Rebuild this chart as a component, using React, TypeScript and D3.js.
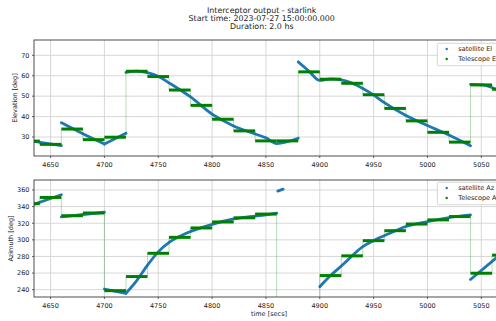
import React, { useRef, useEffect } from "react";
import * as d3 from "d3";

// satellite elevation, one array per pass (time [s], deg)
const satElA = [[4634, 27.9], [4660, 25.8]];
const satElB = [[4660, 37], [4680, 31.6], [4700, 26.6]];
const satElC = [[4700, 26.6], [4720, 31.8]];
const satElD = [
  [4720, 61.6], [4730, 62.3], [4740, 61.5], [4750, 59.7], [4760, 56.5],
  [4780, 49.6], [4800, 41.2], [4820, 35.4], [4840, 31.5], [4850, 29.6],
  [4860, 26.8], [4880, 29.4],
];
const satElE = [
  [4880, 66.8], [4890, 62.2], [4900, 57.7], [4910, 58.5], [4920, 58],
  [4930, 56.4], [4940, 53.8], [4950, 50.6], [4960, 46.8], [4980, 40.5],
  [5000, 35.6], [5020, 31], [5040, 25.7],
];
const satElF = [[5040, 55.8], [5052, 55.5], [5058, 54.6], [5066, 52.8]];

// satellite azimuth
const satAzA = [[4634, 342.6], [4660, 354.3]];
const satAzB = [[4660, 327.6], [4700, 333.2]];
const satAzC = [[4700, 240.8], [4720, 235.7]];
const satAzD = [
  [4720, 235.7], [4730, 251], [4739, 267.7], [4750, 285.5], [4761, 297.8],
  [4776, 307.9], [4800, 318.7], [4820, 325.1], [4835, 327.9], [4850, 330],
  [4860, 332],
];
const satAzE = [[4861, 358.6], [4866, 361]];
const satAzF = [
  [4900, 243.6], [4910, 257], [4921, 269.7], [4940, 291.8], [4950, 299],
  [4965, 307.9], [4980, 316], [5000, 322], [5020, 326.8], [5040, 330],
];
const satAzG = [[5040, 252.3], [5066, 280.5]];

// telescope commands, held 20 s each
const stepTimes = [
  4620, 4640, 4660, 4680, 4700, 4720, 4740, 4760, 4780, 4800, 4820, 4840,
  4860, 4880, 4900, 4920, 4940, 4960, 4980, 5000, 5020, 5040, 5060,
];
const telEl = [
  28, 26.4, 33.9, 28.7, 29.9, 62.2, 59.6, 53, 45.5, 38.7, 33, 28.1,
  28.1, 61.9, 58.3, 56.3, 50.7, 44, 37.9, 32.3, 27.5, 55.5, 53.4,
];
const telAz = [
  343.5, 351, 329, 332.3, 238.8, 255.8, 283.8, 303, 314.3, 321.5, 326.5, 331,
  2, 1, 257, 280.7, 299, 311, 319, 324, 328, 259.8, 281.6,
];
const stepLength = 20;

const xTicks = [4650, 4700, 4750, 4800, 4850, 4900, 4950, 5000, 5050];
const elTicks = [30, 40, 50, 60, 70];
const azTicks = [240, 260, 280, 300, 320, 340, 360];

const titleLines = [
  "Interceptor output - starlink",
  "Start time: 2023-07-27 15:00:00.000",
  "Duration: 2.0 hs",
];

const BLUE = "#1f77b4";
const GREEN = "#008000";
const FONT = "DejaVu Sans, sans-serif";

const App = () => {
  const chartRef = useRef<SVGSVGElement>(null);

  useEffect(() => {
    const svg = d3.select(chartRef.current);
    svg.selectAll("*").remove();

    const width = 496;
    const height = 321;
    const left = 34;
    const right = 504;

    svg.attr("width", width).attr("height", height);

    const x = d3.scaleLinear().domain([4634.6, 5071.1]).range([left, right]);

    // title
    svg.append("g")
      .selectAll("text")
      .data(titleLines)
      .enter()
      .append("text")
      .attr("x", 261.7)
      .attr("y", (d, i) => 12.7 + i * 8.2)
      .attr("text-anchor", "middle")
      .style("font-family", FONT)
      .style("font-size", "7.9px")
      .style("fill", "#222")
      .text((d) => d);

    const panels = [
      {
        id: "el", top: 40, bottom: 156, domain: [20.7, 77.5], ticks: elTicks,
        label: "Elevation [deg]", labelX: 16.5, sat: [satElA, satElB, satElC, satElD, satElE, satElF],
        tel: telEl, names: ["satellite El", "Telescope El"], legendY: 43.3, xLabel: false,
      },
      {
        id: "az", top: 180, bottom: 297, domain: [231.2, 372], ticks: azTicks,
        label: "Azimuth [deg]", labelX: 13, sat: [satAzA, satAzB, satAzC, satAzD, satAzE, satAzF, satAzG],
        tel: telAz, names: ["satellite Az", "Telescope Az"], legendY: 182.3, xLabel: true,
      },
    ];

    panels.forEach((p) => {
      const y = d3.scaleLinear().domain(p.domain).range([p.bottom, p.top]);
      const g = svg.append("g");

      g.append("clipPath")
        .attr("id", `clip-${p.id}`)
        .append("rect")
        .attr("x", left)
        .attr("y", p.top)
        .attr("width", right - left)
        .attr("height", p.bottom - p.top);

      // grid
      g.selectAll("line.vgrid")
        .data(xTicks)
        .enter()
        .append("line")
        .attr("x1", (d) => x(d))
        .attr("x2", (d) => x(d))
        .attr("y1", p.top)
        .attr("y2", p.bottom)
        .attr("stroke", "#d3d3d3")
        .attr("stroke-width", 0.9);
      g.selectAll("line.hgrid")
        .data(p.ticks)
        .enter()
        .append("line")
        .attr("x1", left)
        .attr("x2", right)
        .attr("y1", (d) => y(d))
        .attr("y2", (d) => y(d))
        .attr("stroke", "#d3d3d3")
        .attr("stroke-width", 0.9);

      const plot = g.append("g").attr("clip-path", `url(#clip-${p.id})`);

      // satellite track
      const satLine = d3.line<number[]>()
        .x((d) => x(d[0]))
        .y((d) => y(d[1]))
        .curve(d3.curveMonotoneX);
      plot.selectAll("path.sat")
        .data(p.sat)
        .enter()
        .append("path")
        .attr("d", (d) => satLine(d))
        .attr("fill", "none")
        .attr("stroke", BLUE)
        .attr("stroke-width", 2.8)
        .attr("stroke-linecap", "round");

      // telescope: thin connecting steps, then thick held values
      const steps = stepTimes.map((t, i) => [t, p.tel[i]]);
      steps.push([stepTimes[stepTimes.length - 1] + stepLength, p.tel[p.tel.length - 1]]);
      const stepLine = d3.line<number[]>()
        .x((d) => x(d[0]))
        .y((d) => y(d[1]))
        .curve(d3.curveStepAfter);
      plot.append("path")
        .attr("d", stepLine(steps))
        .attr("fill", "none")
        .attr("stroke", GREEN)
        .attr("stroke-opacity", 0.3)
        .attr("stroke-width", 0.9);
      plot.selectAll("line.tel")
        .data(stepTimes)
        .enter()
        .append("line")
        .attr("x1", (d) => x(d))
        .attr("x2", (d) => x(d + stepLength))
        .attr("y1", (d, i) => y(p.tel[i]))
        .attr("y2", (d, i) => y(p.tel[i]))
        .attr("stroke", GREEN)
        .attr("stroke-width", 3);

      // frame
      g.append("rect")
        .attr("x", left)
        .attr("y", p.top)
        .attr("width", right - left)
        .attr("height", p.bottom - p.top)
        .attr("fill", "none")
        .attr("stroke", "#3a3a3a")
        .attr("stroke-width", 0.9);

      // x ticks
      g.selectAll("line.xt")
        .data(xTicks)
        .enter()
        .append("line")
        .attr("x1", (d) => x(d))
        .attr("x2", (d) => x(d))
        .attr("y1", p.bottom)
        .attr("y2", p.bottom + 2)
        .attr("stroke", "#3a3a3a")
        .attr("stroke-width", 0.8);
      g.selectAll("text.xt")
        .data(xTicks)
        .enter()
        .append("text")
        .attr("x", (d) => x(d))
        .attr("y", p.bottom + 10.5)
        .attr("text-anchor", "middle")
        .style("font-family", FONT)
        .style("font-size", "6.5px")
        .style("fill", "#222")
        .text((d) => d);

      // y ticks
      g.selectAll("line.yt")
        .data(p.ticks)
        .enter()
        .append("line")
        .attr("x1", left - 2)
        .attr("x2", left)
        .attr("y1", (d) => y(d))
        .attr("y2", (d) => y(d))
        .attr("stroke", "#3a3a3a")
        .attr("stroke-width", 0.8);
      g.selectAll("text.yt")
        .data(p.ticks)
        .enter()
        .append("text")
        .attr("x", left - 4.5)
        .attr("y", (d) => y(d) + 2.3)
        .attr("text-anchor", "end")
        .style("font-family", FONT)
        .style("font-size", "6.5px")
        .style("fill", "#222")
        .text((d) => d);

      g.append("text")
        .attr("transform", `translate(${p.labelX},${(p.top + p.bottom) / 2}) rotate(-90)`)
        .attr("text-anchor", "middle")
        .style("font-family", FONT)
        .style("font-size", "6.5px")
        .style("fill", "#222")
        .text(p.label);

      if (p.xLabel) {
        g.append("text")
          .attr("x", (left + right) / 2)
          .attr("y", 315.5)
          .attr("text-anchor", "middle")
          .style("font-family", FONT)
          .style("font-size", "6.5px")
          .style("fill", "#222")
          .text("time [secs]");
      }

      // legend
      const lg = g.append("g").attr("transform", `translate(437.3,${p.legendY})`);
      lg.append("rect")
        .attr("width", 80)
        .attr("height", 22.4)
        .attr("rx", 1.5)
        .attr("fill", "#fff")
        .attr("fill-opacity", 0.85)
        .attr("stroke", "#cccccc")
        .attr("stroke-width", 0.8);
      lg.selectAll("circle")
        .data([BLUE, GREEN])
        .enter()
        .append("circle")
        .attr("cx", 9.4)
        .attr("cy", (d, i) => 5.7 + i * 10)
        .attr("r", 1.2)
        .attr("fill", (d) => d);
      lg.selectAll("text")
        .data(p.names)
        .enter()
        .append("text")
        .attr("x", 21)
        .attr("y", (d, i) => 8 + i * 10)
        .style("font-family", FONT)
        .style("font-size", "6.5px")
        .style("fill", "#222")
        .text((d) => d);
    });
  }, []);

  return <svg ref={chartRef} style={{ position: "absolute", left: 0, top: 0 }}></svg>;
};

export default App;
